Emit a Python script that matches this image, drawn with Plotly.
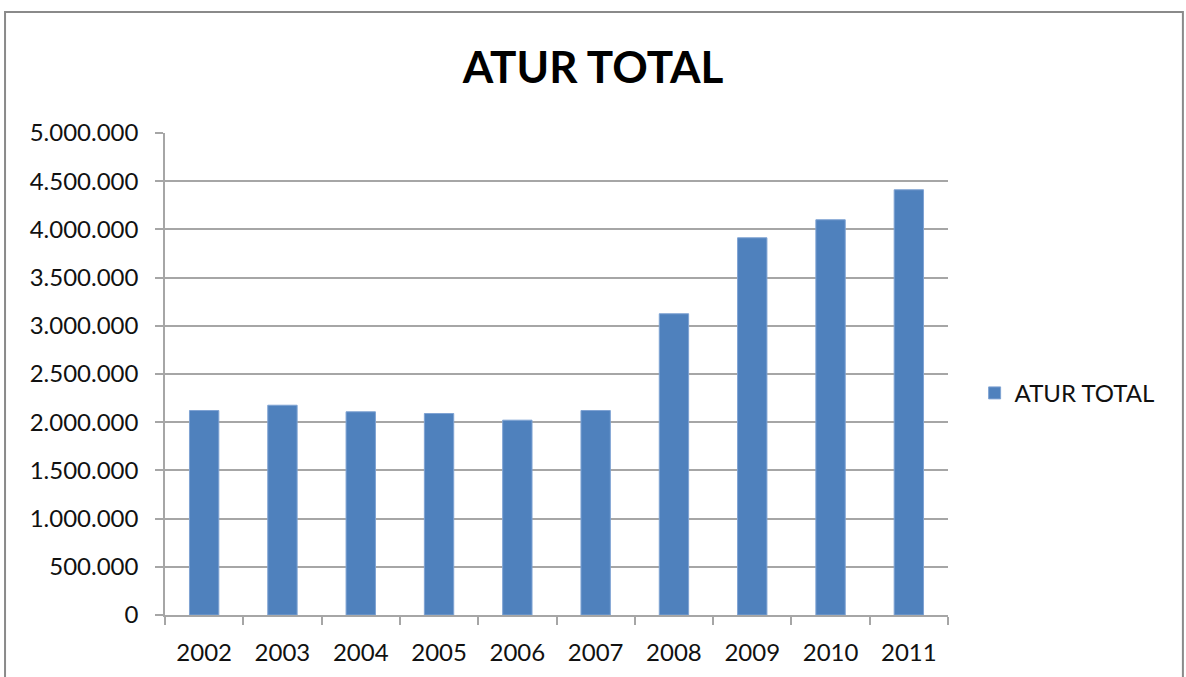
import plotly.graph_objects as go

years = ["2002", "2003", "2004", "2005", "2006", "2007", "2008", "2009", "2010", "2011"]
atur_total = [2121000, 2176000, 2108000, 2090000, 2021000, 2121000, 3125000, 3913000, 4100000, 4411000]
y_ticks = [0, 500000, 1000000, 1500000, 2000000, 2500000, 3000000, 3500000, 4000000, 4500000, 5000000]

FONT = "Lato, 'Open Sans', sans-serif"
GRID = "#a6a6a6"

fig = go.Figure()
fig.add_trace(go.Bar(
    x=years, y=atur_total, name="ATUR TOTAL",
    marker=dict(color="#4f81bd", line=dict(color="#7fa3d3", width=1)),
))

fig.update_layout(
    width=1186, height=677,
    title=dict(text="<b>ATUR TOTAL</b>", x=0.5, xanchor="center", y=0.9, yanchor="middle",
               font=dict(family=FONT, size=44, color="black")),
    font=dict(family=FONT, size=24, color="#111111"),
    separators=",.",
    plot_bgcolor="white", paper_bgcolor="white",
    margin=dict(l=165, r=238, t=133, b=62),
    bargap=0.625,
    showlegend=True,
    legend=dict(x=1.034, xanchor="left", y=0.46, yanchor="middle",
                font=dict(family=FONT, size=24, color="#111111"), itemwidth=30),
    shapes=[dict(type="rect", xref="paper", yref="paper",
                 x0=-0.2043, x1=1.30, y0=-0.2, y1=1.251,
                 line=dict(color="#8a8a8a", width=2), fillcolor="rgba(0,0,0,0)", layer="below")],
)

fig.update_xaxes(
    type="category", showgrid=False, showline=True, linecolor=GRID, linewidth=1.5,
    ticks="outside", tickson="boundaries", ticklen=8, tickcolor=GRID, tickwidth=1.5,
    ticklabelstandoff=15,
)
fig.update_yaxes(
    range=[0, 5000000], tickvals=y_ticks, tickformat=",d",
    showgrid=True, gridcolor=GRID, gridwidth=1.5, zeroline=False,
    showline=True, linecolor=GRID, linewidth=1.5,
    ticks="outside", ticklen=8, tickcolor=GRID, tickwidth=1.5,
    ticklabelstandoff=12,
)

fig.write_html("out.html", config={"displayModeBar": False},
               post_script="document.body.style.margin='0';")
